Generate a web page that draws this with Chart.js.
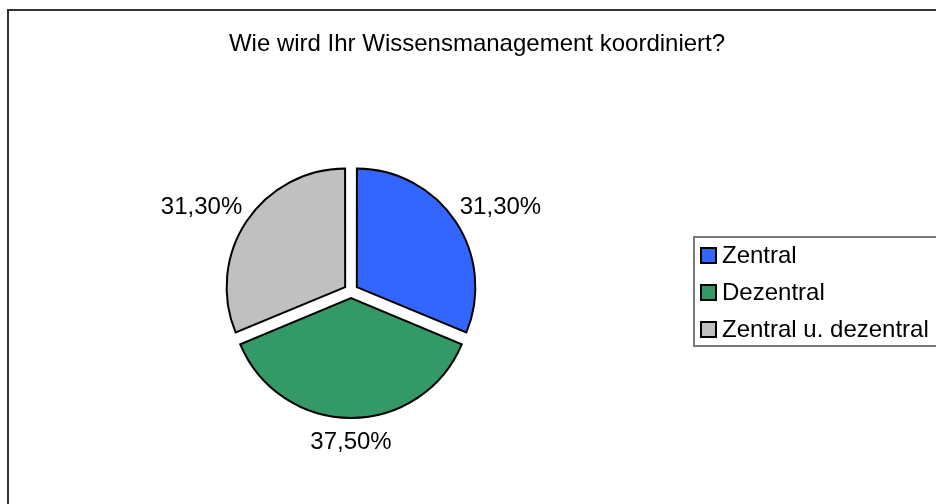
<!DOCTYPE html>
<html>
<head>
<meta charset="utf-8">
<script src="https://cdn.jsdelivr.net/npm/chart.js@4/dist/chart.umd.min.js"></script>
<style>
  html, body { margin: 0; background: #fff; }
  #wrap { width: 936px; height: 504px; }
</style>
</head>
<body>
<div id="wrap"><canvas id="chart" width="936" height="504"></canvas></div>
<script>
const titleText = "Wie wird Ihr Wissensmanagement koordiniert?";
const categories = ["Zentral", "Dezentral", "Zentral u. dezentral"];
const shares = [31.3, 37.5, 31.3];
const shareLabels = ["31,30%", "37,50%", "31,30%"];
const sliceColors = ["#3366FF", "#339966", "#C0C0C0"];

const FONT = '24px "Liberation Sans", Arial, sans-serif';

// frame, title, slice labels and legend box, excel style
const excelBits = {
  id: "excelBits",
  beforeDraw(chart) {
    const ctx = chart.ctx;
    ctx.save();
    ctx.strokeStyle = "#333";
    ctx.lineWidth = 2;
    ctx.beginPath();
    ctx.moveTo(8, 504);
    ctx.lineTo(8, 10);
    ctx.lineTo(936, 10);
    ctx.stroke();

    ctx.fillStyle = "#000";
    ctx.font = FONT;
    ctx.textAlign = "center";
    ctx.textBaseline = "alphabetic";
    ctx.fillText(titleText, 477, 51);
    ctx.restore();
  },
  afterDatasetsDraw(chart) {
    const ctx = chart.ctx;
    const meta = chart.getDatasetMeta(0);
    ctx.save();
    ctx.font = FONT;
    ctx.fillStyle = "#000";
    ctx.textAlign = "center";
    ctx.textBaseline = "middle";
    meta.data.forEach((arc, i) => {
      const p = arc.getProps(["x", "y", "startAngle", "endAngle", "outerRadius"], true);
      const mid = (p.startAngle + p.endAngle) / 2;
      const dx = Math.cos(mid), dy = Math.sin(mid);
      const d = p.outerRadius + arc.options.offset / 4 + 14;
      const w = ctx.measureText(shareLabels[i]).width;
      const h = 25;
      ctx.fillText(shareLabels[i], p.x + dx * d + dx * w / 2, p.y + dy * d + dy * h / 2);
    });

    // legend
    ctx.strokeStyle = "#777";
    ctx.lineWidth = 2;
    ctx.strokeRect(694, 237, 260, 109);
    ctx.textAlign = "left";
    categories.forEach((name, i) => {
      const cy = 255 + i * 37;
      ctx.fillStyle = sliceColors[i];
      ctx.fillRect(701, cy - 7, 15, 15);
      ctx.strokeStyle = "#000";
      ctx.lineWidth = 2;
      ctx.strokeRect(701, cy - 7, 15, 15);
      ctx.fillStyle = "#000";
      ctx.fillText(name, 722, cy + 1);
    });
    ctx.restore();
  }
};

new Chart(document.getElementById("chart"), {
  type: "pie",
  data: {
    labels: categories,
    datasets: [{
      data: shares,
      backgroundColor: sliceColors,
      borderColor: "#000",
      borderWidth: 2,
      borderJoinStyle: "miter",
      offset: 28,
      radius: 118
    }]
  },
  options: {
    responsive: false,
    animation: false,
    layout: { padding: { left: 200, right: 434, top: 170, bottom: 92 } },
    plugins: {
      legend: { display: false },
      tooltip: { enabled: false }
    }
  },
  plugins: [excelBits]
});
</script>
</body>
</html>
